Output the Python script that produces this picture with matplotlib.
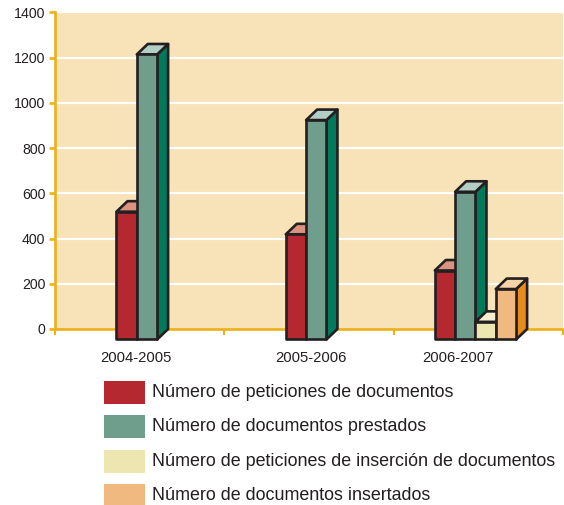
import matplotlib.pyplot as plt
from matplotlib.patches import Polygon, Rectangle

plt.rcParams['font.family'] = ['Liberation Sans', 'DejaVu Sans']

periods = ['2004-2005', '2005-2006', '2006-2007']
series_names = ['Número de peticiones de documentos',
                'Número de documentos prestados',
                'Número de peticiones de inserción de documentos',
                'Número de documentos insertados']
peticiones = [565, 465, 305]
prestados = [1260, 970, 653]
peticiones_insercion = [0, 0, 78]
insertados = [0, 0, 223]
yticks = [0, 200, 400, 600, 800, 1000, 1200, 1400]

# front / top / side shades for each series
front_colors = ['#B5282F', '#6F9E8D', '#EEE6B0', '#F0B97F']
top_colors = ['#D9937E', '#B3CEC4', '#F5EFCF', '#F7D3A7']
side_colors = ['#8E1F25', '#007A5B', '#D8CE8E', '#E78B1D']

edge = '#231F20'
axis_col = '#EEB018'

fig = plt.figure(figsize=(5.64, 5.05), dpi=100)
ax = fig.add_axes([55 / 564, 1 - 329 / 505, 508 / 564, 316.7 / 505])
ax.set_facecolor('#F8E2B7')
ax.set_xlim(0, 3)
ax.set_ylim(0, 1400)

for y in yticks[1:]:
    ax.axhline(y, color='white', lw=1.6, zorder=1)

for s in ['top', 'right']:
    ax.spines[s].set_visible(False)
for s in ['left', 'bottom']:
    ax.spines[s].set_color(axis_col)
    ax.spines[s].set_linewidth(1.9)
    ax.spines[s].set_zorder(2)

ax.set_yticks(yticks)
ax.tick_params(axis='y', colors=axis_col, length=4, width=1.9, pad=3,
               labelcolor=edge, labelsize=10.2)
ax.set_xticks([0, 1, 2, 3])
ax.set_xticklabels([])
ax.tick_params(axis='x', colors=axis_col, length=4, width=1.5)

# pseudo-3D bars
w = 0.12
dx = 0.065
dy = 46.4
data = [peticiones, prestados, peticiones_insercion, insertados]
for i, p in enumerate(periods):
    vals = [(k, d[i]) for k, d in enumerate(data) if d[i] > 0]
    left = i + 0.5 - 0.017 - len(vals) * w / 2
    for k, v in vals:
        l, r = left, left + w
        side = Polygon([(r, -dy), (r + dx, 0), (r + dx, v), (r, v - dy)],
                       closed=True, fc=side_colors[k], ec=edge, lw=1.9,
                       joinstyle='round', clip_on=False, zorder=3)
        top = Polygon([(l, v - dy), (l + dx, v), (r + dx, v), (r, v - dy)],
                      closed=True, fc=top_colors[k], ec=edge, lw=1.9,
                      joinstyle='round', clip_on=False, zorder=3)
        front = Rectangle((l, -dy), w, v, fc=front_colors[k], ec=edge,
                          lw=1.9, joinstyle='round', clip_on=False, zorder=3)
        ax.add_patch(side)
        ax.add_patch(top)
        ax.add_patch(front)
        left = r

label_x = [0.476, 1.51, 2.38]
for x, p in zip(label_x, periods):
    ax.text(x, -0.093, p, transform=ax.get_xaxis_transform(), ha='center',
            va='center', fontsize=10.7, color=edge)

# legend
row_y = [392.5, 426.5, 461, 495]
for k, name in enumerate(series_names):
    yc = 1 - row_y[k] / 505
    fig.patches.append(Rectangle((104 / 564, yc - 11.5 / 505), 41 / 564, 23 / 505,
                                 transform=fig.transFigure, fc=front_colors[k],
                                 ec='none'))
    fig.text(152.5 / 564, yc, name, ha='left', va='center', fontsize=12.9,
             color=edge)

fig.savefig('out.png', dpi=100, facecolor='white')
